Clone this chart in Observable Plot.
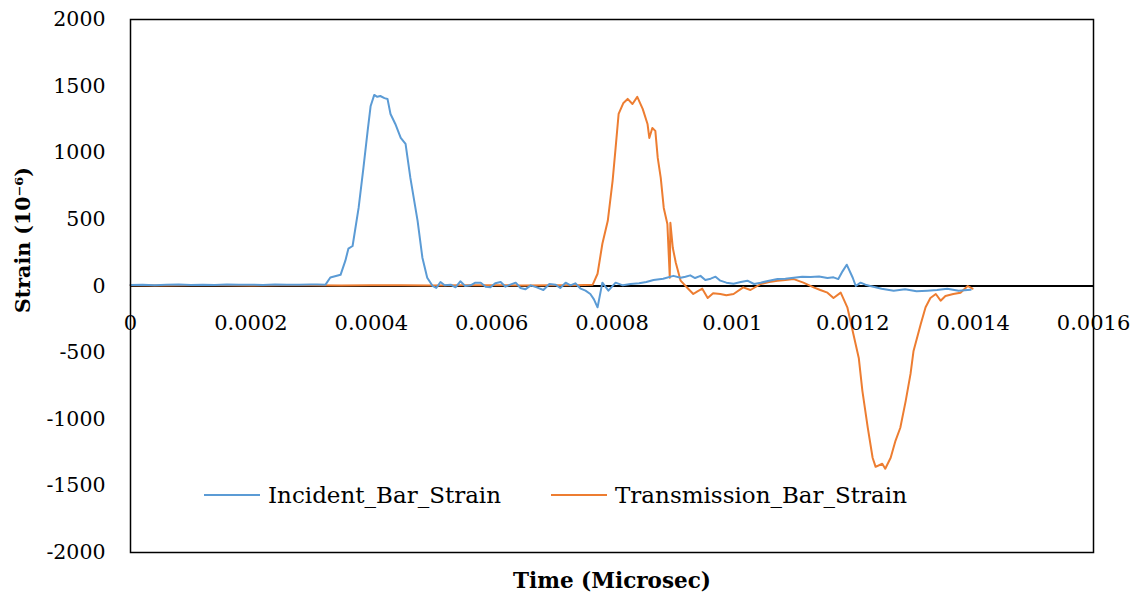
<!DOCTYPE html>
<html>
<head>
<meta charset="utf-8">
<script src="https://cdn.jsdelivr.net/npm/d3@7"></script>
<script src="https://cdn.jsdelivr.net/npm/@observablehq/plot@0.6"></script>
<style>
  html, body { margin: 0; padding: 0; background: #fff; }
  #wrap { position: relative; width: 1137px; height: 601px; font-family: "DejaVu Serif", serif; }
  #wrap svg { position: absolute; left: 0; top: 0; }
  .ytitle { position: absolute; left: 23px; top: 240px; transform: translate(-50%, -50%) rotate(-90deg); font-weight: bold; font-size: 20.5px; white-space: nowrap; color: #000; }
  .xtitle { position: absolute; left: 612px; top: 580px; transform: translate(-50%, -50%); font-weight: bold; font-size: 21.5px; white-space: nowrap; color: #000; }
  .legend { position: absolute; top: 482px; left: 204px; font-size: 23px; display: flex; align-items: center; white-space: nowrap; color: #000; }
  .legend .sw { display: inline-block; width: 56px; height: 0; border-top: 2px solid; margin-right: 8px; }
  .legend .item { display: flex; align-items: center; }
</style>
</head>
<body>
<div id="wrap"></div>
<script>
// ---- data ----
const seriesNames = ["Incident_Bar_Strain", "Transmission_Bar_Strain"];
const seriesColors = ["#5B9BD5", "#ED7D31"];

const incidentTime = [
  0, 0.00002, 0.00004, 0.00006, 0.00008, 0.0001, 0.00012, 0.00014, 0.00016, 0.00018, 0.0002,
  0.00022, 0.00024, 0.00026, 0.00028, 0.0003, 0.00031, 0.000324, 0.000332, 0.000349, 0.000357,
  0.000362, 0.000369, 0.000379, 0.000387, 0.000394, 0.000399, 0.000405, 0.00041, 0.000415, 0.000422,
  0.000427, 0.000432, 0.00044, 0.000449, 0.000457, 0.000465, 0.000477, 0.000485, 0.000493, 0.000502,
  0.000508, 0.000515, 0.000522, 0.000532, 0.00054, 0.000548, 0.000556, 0.000565, 0.000573, 0.000582,
  0.00059, 0.000598, 0.000606, 0.000615, 0.000623, 0.000631, 0.00064, 0.000648, 0.000656, 0.000665,
  0.000675, 0.000686, 0.000696, 0.000706, 0.000714, 0.000723, 0.000731, 0.000739, 0.000748, 0.000756,
  0.000764, 0.00077, 0.000776, 0.000784, 0.000794, 0.000806, 0.000818, 0.000831, 0.000845, 0.000857,
  0.000869, 0.000885, 0.000902, 0.000914, 0.000922, 0.00093, 0.000938, 0.000947, 0.000955, 0.000964,
  0.000972, 0.00098, 0.00099, 0.001002, 0.001014, 0.001025, 0.001036, 0.001047, 0.001061, 0.001075,
  0.001088, 0.001102, 0.001116, 0.00113, 0.001144, 0.001158, 0.001168, 0.001176, 0.001183, 0.00119,
  0.0012, 0.001205, 0.001213, 0.001221, 0.001229, 0.001248, 0.001268, 0.001287, 0.001306, 0.001324,
  0.00134, 0.001357, 0.001376, 0.001396
];
const incidentStrain = [
  8, 10, 6, 9, 11, 7, 10, 8, 12, 9, 10,
  8, 11, 9, 10, 12, 11, 10, 64, 84, 190,
  280, 300, 586, 886, 1164, 1351, 1434, 1420, 1426, 1410,
  1404, 1291, 1216, 1111, 1066, 811, 489, 212, 62, 0,
  -15, 30, 5, 10, -10, 35, 0, 5, 25, 25,
  -5, -10, 20, 30, -5, 10, 25, -15, -25, 5,
  -10, -30, 15, 10, -15, 25, 5, 20, -20, -35,
  -60, -100, -160, 25, -35, 25, 5, 15, 20, 30,
  45, 55, 76, 62, 70, 80, 60, 76, 45, 55,
  70, 40, 25, 17, 30, 40, 15, 25, 40, 52,
  55, 62, 70, 68, 72, 60, 65, 52, 110, 160,
  62, 0, 25, 10, 0, -20, -35, -25, -40, -35,
  -30, -20, -35, -28
];

const transmissionTime = [
  0, 0.00005, 0.0001, 0.00015, 0.0002, 0.00025, 0.0003, 0.00035, 0.0004, 0.00045, 0.0005,
  0.00055, 0.0006, 0.00065, 0.0007, 0.00074, 0.000768, 0.000776, 0.000784, 0.000793, 0.000801,
  0.000806, 0.000811, 0.000819, 0.000826, 0.000834, 0.000842, 0.000851, 0.000859, 0.000862, 0.000867,
  0.000872, 0.000876, 0.000881, 0.000886, 0.000892, 0.000896, 0.000897, 0.000901, 0.000906, 0.000914,
  0.000925, 0.000935, 0.000942, 0.00095, 0.000959, 0.000968, 0.00098, 0.00099, 0.001002, 0.001018,
  0.00103, 0.001047, 0.001061, 0.001075, 0.001088, 0.001102, 0.001118, 0.001135, 0.001146, 0.001158,
  0.001168, 0.00118, 0.001191, 0.001201, 0.00121, 0.001216, 0.001225, 0.001233, 0.001238, 0.001249,
  0.001254, 0.001263, 0.001271, 0.001279, 0.001288, 0.001296, 0.001301, 0.001313, 0.001321, 0.001329,
  0.001338, 0.001346, 0.001354, 0.001367, 0.001379, 0.001391, 0.001399
];
const transmissionStrain = [
  5, 4, 6, 5, 4, 6, 5, 4, 5, 6, 4,
  5, 6, 4, 5, 6, 10, 92, 317, 489, 789,
  1037, 1291, 1374, 1404, 1366, 1419, 1329, 1216, 1111, 1186,
  1164, 961, 811, 586, 466, 62, 474, 287, 174, 40,
  -13, -60, -40, -20, -90, -55, -60, -70, -60, -10,
  -30, 15, 30, 40, 45, 52, 25, -10, -30, -50,
  -90, -50, -160, -360, -540, -787, -1064, -1289, -1357, -1334,
  -1371, -1289, -1162, -1064, -862, -660, -487, -285, -160, -90,
  -60, -110, -75, -60, -50, 0, -20
];

const xTicks = [0, 0.0002, 0.0004, 0.0006, 0.0008, 0.001, 0.0012, 0.0014, 0.0016];
const xTickLabels = ["0", "0.0002", "0.0004", "0.0006", "0.0008", "0.001", "0.0012", "0.0014", "0.0016"];
const yTicks = [-2000, -1500, -1000, -500, 0, 500, 1000, 1500, 2000];

const xTitle = "Time (Microsec)";
const yTitle = "Strain (10⁻⁶)";

// ---- build ----
const incident = incidentTime.map((t, i) => ({t, v: incidentStrain[i], s: seriesNames[0]}));
const transmission = transmissionTime.map((t, i) => ({t, v: transmissionStrain[i], s: seriesNames[1]}));
const xTickData = xTicks.map((t, i) => ({t, label: xTickLabels[i]}));

const chart = Plot.plot({
  width: 1137,
  height: 601,
  marginLeft: 130,
  marginRight: 44,
  marginTop: 19,
  marginBottom: 49,
  style: {fontFamily: "DejaVu Serif, serif", fontSize: "20px", color: "#000", background: "#fff"},
  x: {domain: [0, 0.0016], axis: null},
  y: {domain: [-2000, 2000], axis: null},
  marks: [
    Plot.ruleY([0], {stroke: "#000", strokeWidth: 2}),
    Plot.line(transmission, {x: "t", y: "v", stroke: seriesColors[1], strokeWidth: 2}),
    Plot.line(incident, {x: "t", y: "v", stroke: seriesColors[0], strokeWidth: 2}),
    Plot.text(xTickData, {x: "t", y: () => 0, text: "label", dy: 37, fill: "#000", fontSize: 21}),
    Plot.axisY(yTicks, {tickSize: 0, tickPadding: 25, fontSize: 20.5, fill: "#000", label: null, tickFormat: d => d < 0 ? "-" + Math.abs(d) : String(d)}),
    Plot.frame({stroke: "#000", strokeWidth: 1.5})
  ]
});

const wrap = document.getElementById("wrap");
wrap.appendChild(chart);

const yt = document.createElement("div");
yt.className = "ytitle"; yt.textContent = yTitle; wrap.appendChild(yt);
const xt = document.createElement("div");
xt.className = "xtitle"; xt.textContent = xTitle; wrap.appendChild(xt);

const lg = document.createElement("div");
lg.className = "legend";
seriesNames.forEach((name, i) => {
  const item = document.createElement("span");
  item.className = "item";
  if (i > 0) item.style.marginLeft = "50px";
  const sw = document.createElement("span");
  sw.className = "sw"; sw.style.borderTopColor = seriesColors[i];
  const tx = document.createElement("span");
  tx.textContent = name;
  item.appendChild(sw); item.appendChild(tx);
  lg.appendChild(item);
});
wrap.appendChild(lg);
</script>
</body>
</html>
